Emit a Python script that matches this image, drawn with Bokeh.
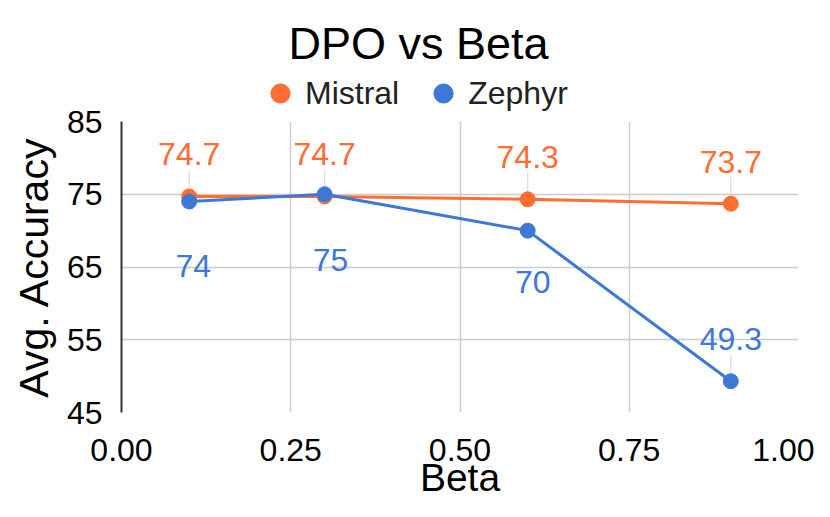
from bokeh.plotting import figure
from bokeh.layouts import column
from bokeh.models import (ColumnDataSource, FixedTicker, NumeralTickFormatter, Range1d,
                          Label, Legend, LegendItem)
from bokeh.core.properties import value
from bokeh.embed import file_html
from bokeh.resources import INLINE

# ---- data ----
beta = [0.1, 0.3, 0.6, 0.9]
mistral = [74.7, 74.7, 74.3, 73.7]
zephyr = [74.0, 75.0, 70.0, 49.3]
mistral_labels = ["74.7", "74.7", "74.3", "73.7"]
zephyr_labels = ["74", "75", "70", "49.3"]
x_ticks = [0.0, 0.25, 0.5, 0.75, 1.0]
y_ticks = [45, 55, 65, 75, 85]
series_names = ["Mistral", "Zephyr"]

# ---- styling (pixel offsets of the value labels) ----
mistral_dy = [-42, -42, -42, -42]
zephyr_dy = [64, 66, 51, -42]
zephyr_dx = [4, 6, 5, 0]

FONT = "Liberation Sans"
ORANGE = "#ff6d31"
BLUE = "#3c78d8"
GRID = "#cccccc"

W = 814
TOP_H = 121          # header height (down to the top of the plot frame)
OVERLAP = 16         # main figure's top border slides under the header
MAIN_H = 501 - TOP_H + OVERLAP
FRAME_H = 292
Y0, Y1 = 45, 85
px_per_unit = FRAME_H / (Y1 - Y0)

src_m = ColumnDataSource(dict(x=beta, y=mistral, t=mistral_labels, dy=mistral_dy, dx=[0] * 4))
src_z = ColumnDataSource(dict(x=beta, y=zephyr, t=zephyr_labels, dy=zephyr_dy, dx=zephyr_dx))

# ---------- header: title + legend ----------
head = figure(width=W, height=TOP_H, x_range=Range1d(0, 1), y_range=Range1d(0, 1),
              output_backend="svg", toolbar_location=None, x_axis_type=None, y_axis_type=None,
              min_border_left=121, min_border_right=16, min_border_top=0, min_border_bottom=0)
head.outline_line_color = None
head.xgrid.visible = False
head.ygrid.visible = False
title = Label(x=297, y=TOP_H - 43, x_units="screen", y_units="screen", text="DPO vs Beta",
              text_align="center", text_baseline="middle",
              text_font=FONT, text_font_size="45px", text_color="black")
head.add_layout(title)
# legend glyphs use the real sources; their points fall outside this header's ranges
lm = head.scatter("x", "y", source=src_m, size=15, fill_color=ORANGE, line_color=ORANGE)
lz = head.scatter("x", "y", source=src_z, size=15, fill_color=BLUE, line_color=BLUE)
legend = Legend(items=[LegendItem(label=series_names[0], renderers=[lm]),
                       LegendItem(label=series_names[1], renderers=[lz])],
                location=(135, TOP_H - 69 - 48), orientation="horizontal",
                glyph_width=48, glyph_height=48, label_standoff=1, spacing=20,
                padding=0, margin=0, border_line_color=None, background_fill_alpha=0,
                label_text_font=FONT, label_text_font_size="32px", label_text_color="#222222")
head.add_layout(legend, "center")

# ---------- main chart ----------
p = figure(width=W, height=MAIN_H, x_range=Range1d(0, 1), y_range=Range1d(Y0, Y1),
           output_backend="svg", toolbar_location=None,
           min_border_left=121, min_border_right=16, min_border_top=OVERLAP,
           min_border_bottom=88)
p.outline_line_color = None
p.border_fill_alpha = 0
p.styles = {"margin-top": f"-{OVERLAP}px"}

p.xaxis.ticker = FixedTicker(ticks=x_ticks)
p.yaxis.ticker = FixedTicker(ticks=y_ticks)
p.xaxis.formatter = NumeralTickFormatter(format="0.00")
for ax in (p.xaxis[0], p.yaxis[0]):
    ax.major_tick_line_color = None
    ax.minor_tick_line_color = None
    ax.major_tick_in = 0
    ax.major_tick_out = 0
    ax.major_label_text_font = FONT
    ax.major_label_text_font_size = "32px"
    ax.major_label_text_color = "black"
    ax.axis_label_text_font = FONT
    ax.axis_label_text_font_style = "normal"
    ax.axis_label_text_color = "black"
p.xaxis.axis_label = "Beta"
p.yaxis.axis_label = "Avg. Accuracy"
p.xaxis.axis_label_text_font_size = "39px"
p.yaxis.axis_label_text_font_size = "41px"
p.xaxis.axis_line_color = None
p.yaxis.axis_line_color = "#333333"
p.yaxis.axis_line_width = 2
p.xaxis.major_label_standoff = 26
p.yaxis.major_label_standoff = 19
p.xaxis.axis_label_standoff = -8
p.yaxis.axis_label_standoff = 7

p.xgrid.grid_line_color = GRID
p.ygrid.grid_line_color = GRID
p.xgrid.grid_line_width = 1.5
p.ygrid.grid_line_width = 1.5

# leader lines for labels placed above points
def leaders(xs, ys, dys):
    x0, y0, y1 = [], [], []
    for x, y, d in zip(xs, ys, dys):
        if d < 0:
            x0.append(x)
            y0.append(y + 7 / px_per_unit)
            y1.append(y + 27 / px_per_unit)
    return dict(x0=x0, y0=y0, x1=x0, y1=y1)

for d in (leaders(beta, mistral, mistral_dy), leaders(beta, zephyr, zephyr_dy)):
    p.segment(x0="x0", y0="y0", x1="x1", y1="y1", source=ColumnDataSource(d),
              line_color="#dddddd", line_width=1.2)

p.line("x", "y", source=src_m, line_color=ORANGE, line_width=3)
p.line("x", "y", source=src_z, line_color=BLUE, line_width=3)
p.scatter("x", "y", source=src_m, size=15, fill_color=ORANGE, line_color=ORANGE)
p.scatter("x", "y", source=src_z, size=15, fill_color=BLUE, line_color=BLUE)

for src, col in ((src_m, ORANGE), (src_z, BLUE)):
    p.text("x", "y", text="t", source=src, x_offset="dx", y_offset="dy",
           text_align="center", text_baseline="middle",
           text_font=value(FONT), text_font_size="32px", text_color=col)

layout = column(head, p, spacing=0)
open("out.html", "w").write(file_html(layout, INLINE))
